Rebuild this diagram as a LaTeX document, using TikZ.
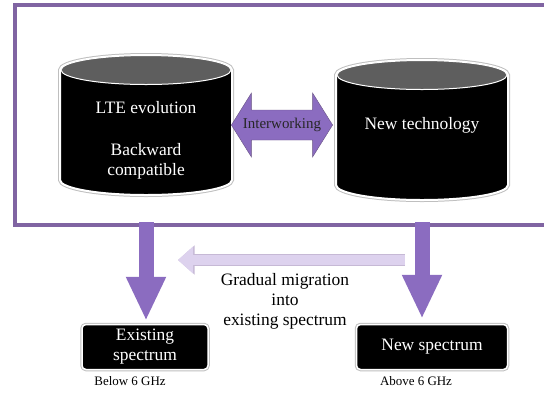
\documentclass[tikz,border=0pt]{standalone}
\usepackage{fontspec}
\setmainfont{Liberation Serif}
\newfontfamily\timesface{Liberation Serif}
\usetikzlibrary{positioning,shapes.arrows,arrows.meta}
\definecolor{framepurple}{HTML}{8064A2}
\definecolor{arrowpurple}{HTML}{8B6CC0}
\definecolor{lightpurple}{HTML}{DDD2EE}
\definecolor{cyltop}{HTML}{5E5E5E}
\newcommand\cylfont{\timesface\fontsize{17.5}{20}\selectfont}
\newcommand\arrfont{\timesface\fontsize{15}{17}\selectfont}
\newcommand\capfont{\timesface\fontsize{13}{15}\selectfont}
\tikzset{
  cylspot/.style={rectangle, minimum width=172bp, minimum height=140bp,
    inner sep=0pt, outer sep=0pt},
  cylbody/.style={fill=black, draw=white, line width=2bp,
    preaction={draw=black!25, line width=4bp}},
  cylend/.style={fill=cyltop, draw=white, line width=1bp},
  cyltext/.style={text=white, align=center, font=\cylfont},
  specbox/.style={rectangle, rounded corners=4bp, fill=black, draw=white,
    line width=1.5bp, preaction={draw=black!25, line width=3.5bp},
    minimum height=45bp, text=white, align=center, font=\cylfont},
  dblarrow/.style={double arrow, fill=arrowpurple, draw=framepurple!80!black,
    thin, minimum height=101bp, double arrow head extend=17bp,
    double arrow tip angle=116, inner xsep=2bp, inner ysep=8bp,
    font=\arrfont, text=black!85},
  bigarrow/.style={draw=arrowpurple, line width=15bp,
    -{Triangle[width=37bp, length=44bp]}},
  migarrow/.style={draw=lightpurple, line width=10bp,
    -{Triangle[width=26bp, length=15bp]},
    preaction={draw=framepurple!45, line width=11.5bp,
      -{Triangle[width=28bp, length=16.5bp]}}}
}
\begin{document}
\begin{tikzpicture}[x=1bp, y=-1bp]
    \useasboundingbox (0,0) rectangle (544,402);

    % outer frame, open on the right
    \node[draw=framepurple, line width=4bp, minimum width=560bp,
          minimum height=220bp, anchor=north west] (frame) at (13,3) {};

    % technologies
    \node[cylspot] (lte)                              at (146,125) {};
    \node[cylspot, right=104bp of lte, yshift=-5bp] (newtech) {};
    \foreach \c in {lte,newtech} {
        \draw[cylbody] ([yshift=-15bp]\c.north west)
            -- ([yshift=15bp]\c.south west)
            arc[start angle=180, end angle=360, x radius=86bp, y radius=15bp]
            -- ([yshift=-15bp]\c.north east)
            arc[start angle=0, end angle=180, x radius=86bp, y radius=15bp]
            -- cycle;
        \draw[cylend] ([yshift=-15bp]\c.north) ellipse [x radius=85bp, y radius=14.5bp];
    }
    \node[cyltext] (ltetext) at ([yshift=-15bp]lte.center)
          {LTE evolution\\[22bp]Backward\\compatible};
    \node[cyltext] (newtechtext) at ([yshift=5bp]newtech.center) {New technology};
    \node[dblarrow] (inter) at (282,125)         {Interworking};

    % spectrum
    \node[specbox, minimum width=126bp] (exist)   at (145,347) {Existing\\spectrum};
    \node[specbox, minimum width=151bp] (newspec) at (432,347) {New spectrum};
    \node[font=\capfont, below=3bp of exist, xshift=-15bp] (below6) {Below 6 GHz};
    \node[font=\capfont, below=3bp of newspec, xshift=-16bp] (above6) {Above 6 GHz};

    \node[font=\cylfont, align=center] (migtext) at (285,301)
          {Gradual migration\\into\\existing spectrum};

    \draw[bigarrow, shorten <=-5bp, shorten >=3bp]
        (lte.south |- frame.south) -- (lte.south |- exist.north);
    \draw[bigarrow, shorten <=-5bp, shorten >=5bp]
        (newtech.south |- frame.south) -- (newtech.south |- newspec.north);

    \coordinate (migfrom) at (405,260);
    \coordinate (migto)   at (178,260);
    \draw[migarrow] (migfrom) -- (migto);
\end{tikzpicture}
\end{document}
